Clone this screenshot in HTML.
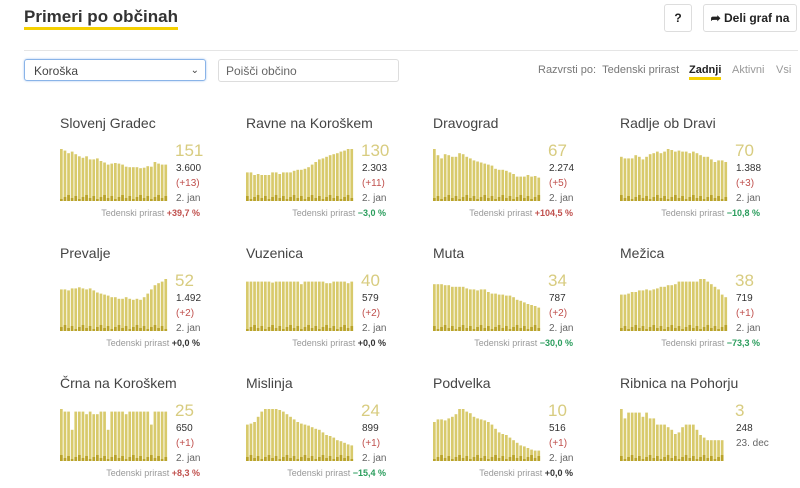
<!DOCTYPE html>
<html><head><meta charset="utf-8">
<style>
body{margin:0;width:800px;height:488px;background:#fff;font-family:"Liberation Sans",sans-serif;overflow:hidden;position:relative}
.a{position:absolute;white-space:nowrap}
h1{position:absolute;left:24px;top:7px;margin:0;font-size:17px;font-weight:bold;color:#333;border-bottom:3px solid #f5d000;line-height:20px;padding-bottom:0}
.btn{position:absolute;border:1px solid #ddd;border-radius:3px;font-weight:bold;font-size:12px;color:#222;text-align:center;line-height:26px;height:26px}
.t{font-size:14px;color:#444}
.big{font-size:17px;color:#d8cc80}
.s{font-size:10px;color:#333}
.r{font-size:10px;color:#c0504d}
.g{font-size:10px;color:#666}
.tp{font-size:9px;color:#999;text-align:right;width:160px}
</style></head><body>
<h1>Primeri po občinah</h1>
<div class="btn" style="left:664px;top:4px;width:26px">?</div>
<div class="btn" style="left:703px;top:4px;width:92px">&#10150; Deli graf na</div>
<div class="a" style="left:24px;top:50px;width:774px;border-top:1px solid #e5e5e5"></div>
<div class="a" style="left:24px;top:59px;width:180px;height:22px;border:1px solid #8ab4e8;border-radius:3px;box-shadow:0 0 2px #a8c8f0;font-size:12px;color:#444;line-height:22px;padding-left:9px;box-sizing:border-box;width:182px">Koroška<span style="position:absolute;right:6px;font-size:10px">&#8964;</span></div>
<div class="a" style="left:218px;top:59px;width:181px;height:23px;border:1px solid #ddd;border-radius:3px;font-size:12px;color:#666;line-height:23px;padding-left:7px;box-sizing:border-box">Poišči občino</div>
<div class="a" style="left:538px;top:64px;font-size:11px;color:#777">Razvrsti po: &nbsp;Tedenski prirast</div>
<div class="a" style="left:689px;top:64px;font-size:11px;color:#222;font-weight:bold;border-bottom:3px solid #f5d000;line-height:13px">Zadnji</div>
<div class="a" style="left:732px;top:64px;font-size:11px;color:#999">Aktivni</div>
<div class="a" style="left:776px;top:64px;font-size:11px;color:#999">Vsi</div>
<svg class="a" id="sv" style="left:0;top:0" width="800" height="488"></svg>
<div id="c"></div>
<script>
var D=[
["Slovenj Gradec","151","3.600","(+13)","2. jan","+39,7 %","#c0504d",[1,.97,.92,.95,.9,.86,.83,.86,.8,.8,.82,.77,.74,.7,.72,.73,.72,.7,.66,.65,.65,.65,.63,.64,.67,.66,.75,.72,.7,.7]],
["Ravne na Koroškem","130","2.303","(+11)","2. jan","−3,0 %","#2a9d5c",[.55,.55,.5,.52,.5,.5,.5,.55,.55,.52,.55,.55,.55,.58,.6,.6,.62,.65,.7,.75,.8,.82,.85,.88,.9,.92,.95,.97,1,1]],
["Dravograd","67","2.274","(+5)","2. jan","+104,5 %","#c0504d",[1,.88,.82,.9,.88,.85,.85,.92,.9,.85,.82,.78,.76,.74,.72,.7,.68,.62,.6,.6,.58,.55,.52,.47,.47,.47,.5,.47,.48,.45]],
["Radlje ob Dravi","70","1.388","(+3)","2. jan","−10,8 %","#2a9d5c",[.85,.82,.82,.82,.88,.85,.8,.85,.9,.92,.95,.92,.95,1,.98,.95,.97,.95,.95,.92,.95,.92,.88,.85,.85,.8,.75,.78,.78,.75]],
["Prevalje","52","1.492","(+2)","2. jan","+0,0 %","#333",[.8,.8,.78,.82,.82,.84,.82,.8,.82,.78,.74,.72,.7,.68,.65,.65,.62,.62,.65,.62,.6,.62,.6,.65,.72,.8,.88,.92,.95,1]],
["Vuzenica","40","579","(+2)","2. jan","+0,0 %","#333",[.95,.95,.95,.95,.95,.95,.95,.93,.95,.95,.95,.95,.95,.95,.95,.9,.95,.95,.95,.95,.95,.95,.92,.92,.95,.95,.95,.95,.92,.95]],
["Muta","34","787","(+2)","2. jan","−30,0 %","#2a9d5c",[.9,.9,.9,.88,.88,.85,.85,.85,.85,.82,.8,.8,.78,.8,.8,.75,.72,.72,.7,.7,.68,.68,.65,.6,.58,.55,.52,.5,.48,.45]],
["Mežica","38","719","(+1)","2. jan","−73,3 %","#2a9d5c",[.7,.7,.72,.75,.75,.78,.78,.8,.78,.8,.82,.85,.85,.88,.88,.9,.95,.95,.95,.95,.95,.95,1,1,.95,.9,.85,.8,.7,.65]],
["Črna na Koroškem","25","650","(+1)","2. jan","+8,3 %","#c0504d",[1,.95,.95,.6,.95,.95,.95,.9,.95,.9,.9,.95,.95,.6,.95,.95,.95,.95,.9,.95,.95,.95,.95,.95,.95,.7,.95,.95,.95,.95]],
["Mislinja","24","899","(+1)","2. jan","−15,4 %","#2a9d5c",[.7,.72,.75,.85,.95,1,1,1,1,.98,.95,.9,.85,.8,.75,.72,.7,.68,.65,.62,.6,.55,.5,.48,.45,.4,.38,.35,.32,.3]],
["Podvelka","10","516","(+1)","2. jan","+0,0 %","#333",[.75,.8,.8,.78,.82,.85,.9,1,1,.95,.92,.85,.82,.8,.78,.75,.7,.62,.55,.52,.5,.45,.4,.35,.3,.28,.25,.22,.2,.2]],
["Ribnica na Pohorju","3","248","","23. dec","","",[1,.82,.93,.93,.93,.93,.85,.93,.82,.82,.7,.7,.7,.65,.6,.52,.55,.65,.7,.7,.7,.6,.5,.45,.4,.4,.4,.4,.4]]
];
var X=[60,246,433,620],sv='',h='';
D.forEach(function(d,i){var c=i%4,r=Math.floor(i/4),x=X[c],y=110+r*130;
h+='<div class="a t" style="left:'+x+'px;top:'+(y+5)+'px">'+d[0]+'</div>';
var bot=y+91,H=52,n=d[7].length,w=108/30;
d[7].forEach(function(v,k){var bh=v*H,bx=x+k*w;
sv+='<rect x="'+bx.toFixed(1)+'" y="'+(bot-bh).toFixed(1)+'" width="'+(w-0.9).toFixed(1)+'" height="'+bh.toFixed(1)+'" fill="#d8ca6c"/>';
var dk=2+((k*7+i*3)%5);sv+='<rect x="'+bx.toFixed(1)+'" y="'+(bot-dk)+'" width="'+(w-0.9).toFixed(1)+'" height="'+dk+'" fill="#b9a32a"/>';});
var nx=x+115;
h+='<div class="a big" style="left:'+nx+'px;top:'+(y+31)+'px">'+d[1]+'</div>';
h+='<div class="a s" style="left:'+(nx+1)+'px;top:'+(y+53)+'px">'+d[2]+'</div>';
if(d[3])h+='<div class="a r" style="left:'+(nx+1)+'px;top:'+(y+68)+'px">'+d[3]+'</div>';
h+='<div class="a g" style="left:'+(nx+1)+'px;top:'+(y+(d[3]?83:68))+'px">'+d[4]+'</div>';
if(d[5])h+='<div class="a tp" style="left:'+(x-20)+'px;top:'+(y+98)+'px">Tedenski prirast <b style="color:'+d[6]+'">'+d[5]+'</b></div>';
});
document.getElementById('sv').innerHTML=sv;document.getElementById('c').innerHTML=h;
</script>
</body></html>
